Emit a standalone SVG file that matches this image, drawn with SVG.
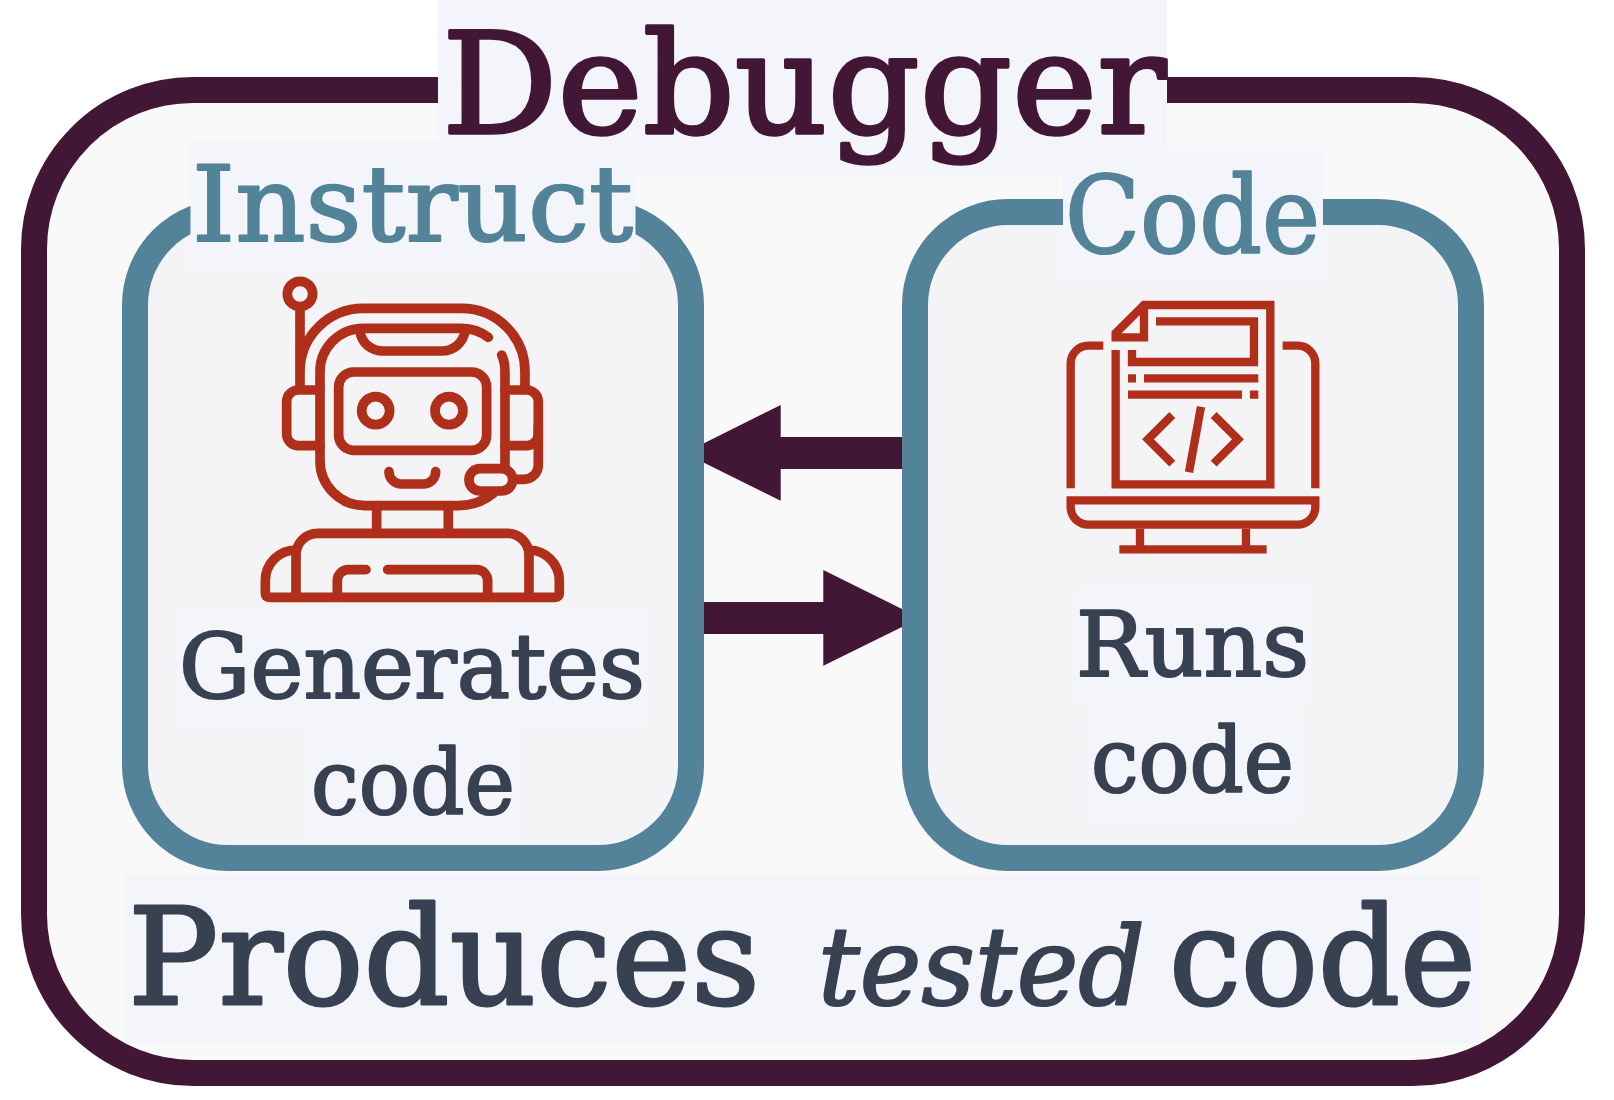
<svg xmlns="http://www.w3.org/2000/svg" width="1614" height="1100" viewBox="0 0 1614 1100">
<style>
.frame{fill:#f9f9f9;stroke:#421735;stroke-width:26}
.box{fill:#f4f4f7;stroke:#528398;stroke-width:26}
.bg{fill:#f4f5fa}
.t{font-family:"DejaVu Serif","Liberation Serif",serif;stroke-linejoin:round}
.dark{fill:#374151;stroke:#374151;stroke-width:2.200}
.teal{fill:#528398;stroke:#528398;stroke-width:2.200}
.plum{fill:#421735;stroke:#421735;stroke-width:3.500}
.big{stroke-width:3}
.ic{fill:none;stroke:#af2f1a}
.robot{stroke-width:29;stroke-linecap:round;stroke-linejoin:round}
.laptop{stroke-width:25;stroke-linejoin:miter}
.arrow{fill:#421735}
</style>
<rect width="1614" height="1100" fill="#ffffff"/>
<g id="debugger">
<rect class="frame" x="34" y="90" width="1538" height="983" rx="159" ry="159"/>
<rect class="bg" x="438" y="0" width="729" height="175"/>
</g>
<g id="instruct">
<rect class="box" x="135" y="212" width="556" height="646" rx="93" ry="93"/>
<rect class="bg" x="190.500" y="141" width="445" height="129"/>
<text class="t teal" x="192" y="241" font-size="104" textLength="441" lengthAdjust="spacingAndGlyphs">Instruct</text>
<g class="ic robot" transform="translate(240 260) scale(0.3333)">
<circle cx="180" cy="102" r="38"/>
<path d="M180 150V380M180 335A190 190 0 0 1 370 145H665A190 190 0 0 1 855 335V380"/>
<path d="M745 232Q710 205 665 205H370A130 130 0 0 0 240 335V602A135 135 0 0 0 375 737H655Q715 737 760 700"/>
<path d="M785 285Q795 305 795 335V620"/>
<path d="M360 215C365 250 395 273 430 273H605C640 273 668 250 675 215"/>
<rect x="296" y="336" width="444" height="235" rx="45"/>
<circle cx="407" cy="452" r="42"/>
<circle cx="627" cy="452" r="42"/>
<path d="M447 635A37 37 0 0 0 484 672H550A37 37 0 0 0 587 635"/>
<path d="M240 390H175A35 35 0 0 0 140 425V522A35 35 0 0 0 175 557H240"/>
<path d="M795 390H860A35 35 0 0 1 895 425V522A35 35 0 0 1 860 557H795"/>
<path d="M895 500V615A43 43 0 0 1 852 658H825"/>
<rect x="687" y="626" width="131" height="67" rx="33"/>
<path d="M410 737V820M625 737V820"/>
<path d="M168 1010V885A65 65 0 0 1 233 820H800A65 65 0 0 1 867 885V1010"/>
<path d="M168 870A92 92 0 0 0 76 962V1000Q76 1012 88 1012H945Q958 1012 958 1000V962A92 92 0 0 0 867 870"/>
<path d="M378 929H325A33 33 0 0 0 292 962V1010M443 929H710A33 33 0 0 1 743 962V1010"/>
</g>
<rect class="bg" x="177" y="612" width="469" height="112"/>
<text class="t dark" x="179" y="698" font-size="90" textLength="466" lengthAdjust="spacingAndGlyphs">Generates</text>
<rect class="bg" x="307" y="727" width="209" height="111"/>
<text class="t dark" x="311" y="814" font-size="90" textLength="204" lengthAdjust="spacingAndGlyphs">code</text>
</g>
<g id="code">
<rect class="box" x="915" y="212" width="556" height="646" rx="93" ry="93"/>
<rect class="bg" x="1063" y="151" width="260" height="130"/>
<text class="t teal" x="1065" y="252" font-size="106" textLength="255" lengthAdjust="spacingAndGlyphs">Code</text>
<g class="ic laptop" transform="translate(1040 280) scale(0.3333)">
<path d="M227 210V613H691V75H312L227 160V172H312V75"/>
<path d="M348 124H642V246H276V210"/>
<path d="M264 295H288M312 295H655M264 344H606M630 344H655"/>
<path d="M397 405L324 478L397 551M521 405L594 478L521 551M483 380L447 577"/>
<path d="M190 197H145A53 53 0 0 0 92 250V625M728 197H773A53 53 0 0 1 826 250V625"/>
<path d="M92 661H826V681A53 53 0 0 1 773 734H145A53 53 0 0 1 92 681Z"/>
<path d="M300 746V797M618 746V797M238 808H680"/>
</g>
<rect class="bg" x="1075" y="590" width="236" height="112"/>
<text class="t dark" x="1076" y="676" font-size="90" textLength="233" lengthAdjust="spacingAndGlyphs">Runs</text>
<rect class="bg" x="1088" y="707" width="210" height="111"/>
<text class="t dark" x="1091" y="792" font-size="90" textLength="203" lengthAdjust="spacingAndGlyphs">code</text>
</g>
<g id="connectors">
<path class="arrow" d="M902 437H780.700V405L704 443.300V462.700L780.700 500.700V469H902Z"/>
<path class="arrow" d="M704 602H823.300V570L902 609V627L823.300 665.700V634H704Z"/>
</g>
<g id="titles">
<text class="t plum" x="442" y="133" font-size="141" textLength="724" lengthAdjust="spacingAndGlyphs">Debugger</text>
<rect class="bg" x="125" y="875" width="1355" height="168"/>
<text class="t dark big" x="128" y="1004" font-size="135" textLength="632" lengthAdjust="spacingAndGlyphs">Produces</text>
<text class="t dark" x="818" y="1004" font-size="108" font-style="italic" textLength="327" lengthAdjust="spacingAndGlyphs">tested</text>
<text class="t dark big" x="1169" y="1004" font-size="135" textLength="307" lengthAdjust="spacingAndGlyphs">code</text>
</g>
</svg>
